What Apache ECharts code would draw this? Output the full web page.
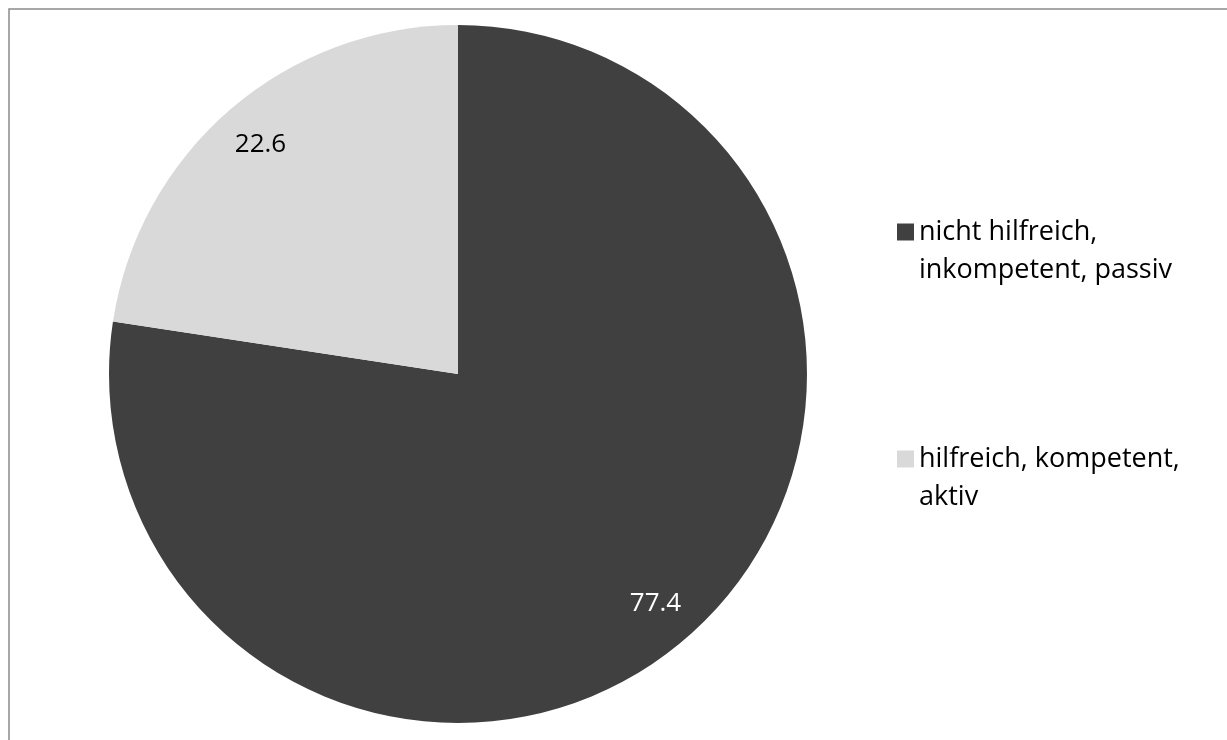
<!DOCTYPE html>
<html>
<head>
<meta charset="utf-8">
<script src="https://cdn.jsdelivr.net/npm/echarts@6/dist/echarts.min.js"></script>
<style>
  html, body { margin: 0; padding: 0; background: #fff; }
  #chart { width: 1227px; height: 740px; }
</style>
</head>
<body>
<div id="chart"></div>
<script>
const categories = ['nicht hilfreich,\ninkompetent, passiv', 'hilfreich, kompetent,\naktiv']
const values = [77.4, 22.6]
const colors = ['#404040', '#d9d9d9']
const labelColors = ['#ffffff', '#000000']

const fontFamily = '"Open Sans", "Noto Sans", sans-serif'

const pieData = categories.map((name, i) => ({
  name,
  value: values[i],
  itemStyle: { color: colors[i] }
}))

const labelData = categories.map((name, i) => ({
  name,
  value: values[i],
  label: { color: labelColors[i] }
}))

const chart = echarts.init(document.getElementById('chart'))

chart.setOption({
  animation: false,
  graphic: [
    {
      type: 'rect',
      shape: { x: 9, y: 9, width: 1240, height: 760 },
      style: { fill: 'none', stroke: '#8a8a8a', lineWidth: 1.5 },
      silent: true
    }
  ],
  legend: {
    orient: 'vertical',
    left: 892,
    top: 170,
    itemWidth: 17,
    itemHeight: 17,
    itemGap: 113,
    icon: 'rect',
    data: categories,
    // blank first line keeps the icon level with the first text line
    formatter: (name) => '\u00a0\n' + name,
    textStyle: {
      fontFamily,
      fontSize: 27,
      color: '#000',
      lineHeight: 38
    }
  },
  series: [
    {
      type: 'pie',
      center: [458, 374],
      radius: [0, 349],
      startAngle: 90,
      clockwise: true,
      silent: true,
      label: { show: false },
      labelLine: { show: false },
      data: pieData
    },
    {
      type: 'pie',
      center: [458, 374],
      radius: [251, 349],
      startAngle: 90,
      clockwise: true,
      silent: true,
      itemStyle: { color: 'transparent' },
      label: {
        show: true,
        position: 'inside',
        formatter: (p) => p.value.toFixed(1),
        fontFamily,
        fontSize: 26
      },
      labelLine: { show: false },
      data: labelData
    }
  ]
})
</script>
</body>
</html>
